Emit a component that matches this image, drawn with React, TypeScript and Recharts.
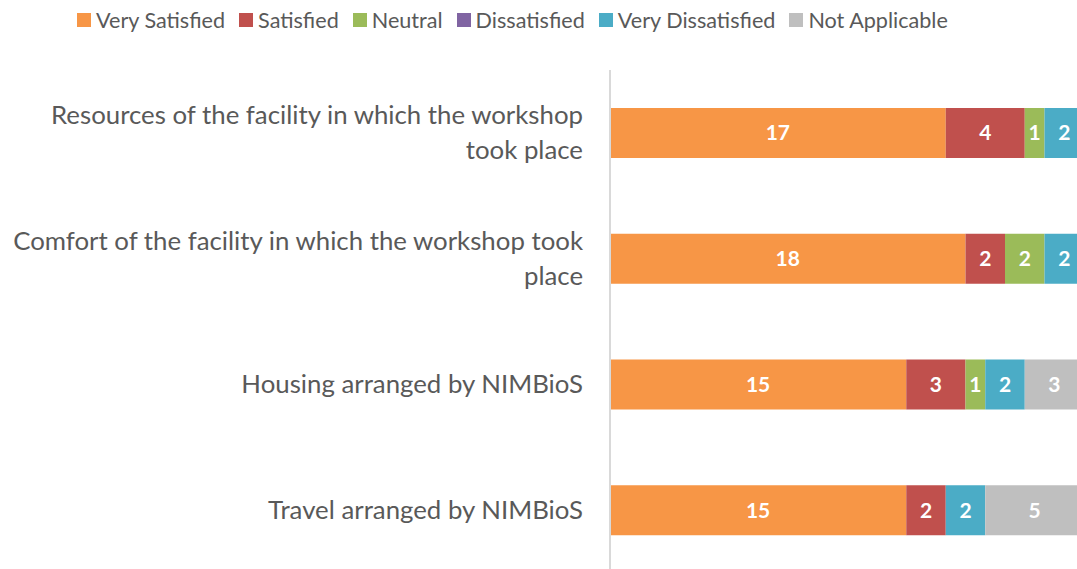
import React from 'react';
import { BarChart, Bar, XAxis, YAxis, Legend, LabelList } from 'recharts';

const categories = [
  'Resources of the facility in which the workshop\ntook place',
  'Comfort of the facility in which the workshop took\nplace',
  'Housing arranged by NIMBioS',
  'Travel arranged by NIMBioS',
];
const verySatisfied = [17, 18, 15, 15];
const satisfied = [4, 2, 3, 2];
const neutral = [1, 2, 1, 0];
const dissatisfied = [0, 0, 0, 0];
const veryDissatisfied = [2, 2, 2, 2];
const notApplicable = [0, 0, 3, 5];

const seriesDefs = [
  { key: 'verySatisfied', name: 'Very Satisfied', color: '#F79646', values: verySatisfied },
  { key: 'satisfied', name: 'Satisfied', color: '#C0504D', values: satisfied },
  { key: 'neutral', name: 'Neutral', color: '#9BBB59', values: neutral },
  { key: 'dissatisfied', name: 'Dissatisfied', color: '#8064A2', values: dissatisfied },
  { key: 'veryDissatisfied', name: 'Very Dissatisfied', color: '#4BACC6', values: veryDissatisfied },
  { key: 'notApplicable', name: 'Not Applicable', color: '#BFBFBF', values: notApplicable },
];

const data = categories.map((c, i) => {
  const row: any = { category: c };
  seriesDefs.forEach((s) => { row[s.key] = s.values[i]; });
  return row;
});

const FONT = 'Lato, "Open Sans", sans-serif';

const CategoryTick = (props: any) => {
  const { x, y, payload } = props;
  const lines = String(payload.value).split('\n');
  const lh = 35;
  const fs = 25.8;
  return (
    <text x={x} y={y} textAnchor="end" fill="#595959" fontSize={fs} fontFamily={FONT}>
      {lines.map((l, i) => (
        <tspan key={i} x={x} y={y + (i - (lines.length - 1) / 2) * lh + fs * 0.35}>{l}</tspan>
      ))}
    </text>
  );
};

const LegendContent = () => (
  <div style={{ display: 'flex', paddingLeft: 77, fontFamily: FONT, fontSize: 21.6, color: '#595959', lineHeight: '24px' }}>
    {seriesDefs.map((s) => (
      <div key={s.key} style={{ display: 'flex', alignItems: 'center', marginRight: 14 }}>
        <span style={{ width: 14, height: 14, background: s.color, display: 'inline-block', marginRight: 5 }} />
        <span>{s.name}</span>
      </div>
    ))}
  </div>
);

const fmt = (v: any) => (v ? v : '');

export default function App() {
  return (
    <div style={{ position: 'fixed', left: 0, top: 0, width: 1077, height: 569, overflow: 'hidden', background: '#fff' }}>
      <BarChart
        width={1090}
        height={580}
        data={data}
        layout="vertical"
        barCategoryGap={0}
        margin={{ top: 46, right: 6, bottom: 7, left: 0 }}
      >
        <XAxis type="number" domain={[0, 24]} hide />
        <YAxis
          type="category"
          dataKey="category"
          width={610}
          tickLine={false}
          tickSize={0}
          tickMargin={27}
          axisLine={{ stroke: '#D9D9D9', strokeWidth: 2 }}
          tick={<CategoryTick />}
          interval={0}
        />
        <Legend
          verticalAlign="top"
          content={<LegendContent />}
          wrapperStyle={{ position: 'absolute', top: 8, left: 0, width: 1077 }}
        />
        {seriesDefs.map((s) => (
          <Bar key={s.key} dataKey={s.key} name={s.name} stackId="a" fill={s.color} barSize={50} isAnimationActive={false}>
            <LabelList dataKey={s.key} position="center" formatter={fmt} fill="#FFFFFF" fontSize={21} fontWeight="bold" fontFamily={FONT} />
          </Bar>
        ))}
      </BarChart>
    </div>
  );
}
